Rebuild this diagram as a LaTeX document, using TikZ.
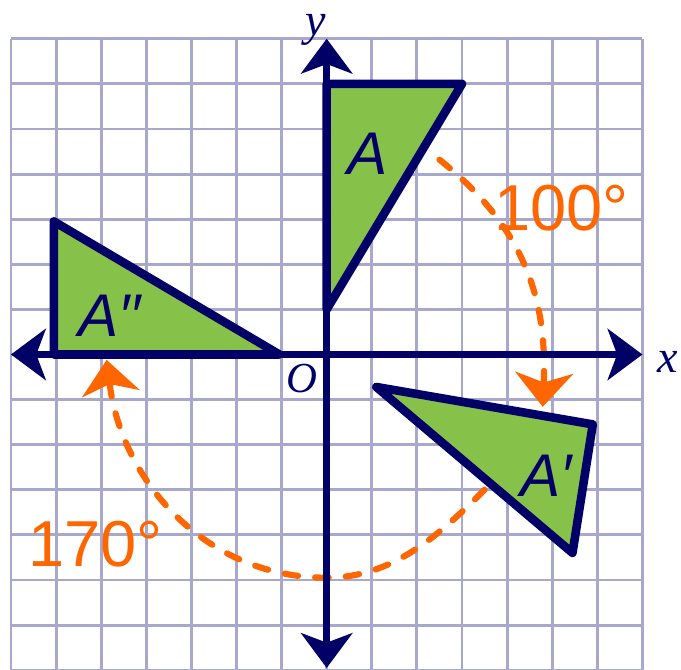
\documentclass[tikz,border=0pt]{standalone}
\usepackage{fontspec}
\setmainfont{Liberation Sans}
\newfontfamily\axisfont{Liberation Serif}
\usetikzlibrary{arrows.meta}

\definecolor{navy}{HTML}{000066}
\definecolor{gridblue}{HTML}{A8A8CC}
\definecolor{leaf}{HTML}{86C14A}
\definecolor{turnorange}{HTML}{FF6600}

\begin{document}
\begin{tikzpicture}[
    gridline/.style={gridblue, line width=1.8pt},
    axis/.style={navy, line width=4.6pt,
        {Stealth[length=7.8mm, width=11.6mm, inset=2.2mm, line width=0pt]}-{Stealth[length=7.8mm, width=11.6mm, inset=2.2mm, line width=0pt]}},
    triangle/.style={draw=navy, fill=leaf, line width=5.4pt, line join=round},
    turn/.style={turnorange, line width=3.9pt, line cap=round, dash pattern=on 0.3cm off 0.38cm,
        -{Stealth[length=7.6mm, width=13mm, inset=2.2mm, line width=0pt]}},
    tag/.style={navy, font=\fontsize{38}{38}\selectfont\itshape, inner sep=0pt, anchor=base},
    angletag/.style={turnorange, font=\fontsize{41}{41}\selectfont, inner sep=0pt, anchor=base},
    axistag/.style={navy, font=\fontsize{29}{29}\selectfont\axisfont\itshape, inner sep=0pt, anchor=base}
]
    \useasboundingbox (-7.244,-6.974) rectangle (7.856,7.86);

    % --- grid ---
    \draw[gridline] (-7,-7) grid (7,7);

    % --- turning paths ---
    \coordinate (turn100a) at (2.5,4.32);
    \coordinate (turn100b) at (4.79,-1.16);
    \draw[turn] (turn100a) .. controls (4.37,2.83) and (4.89,1.24) .. (turn100b);

    \coordinate (turn170a) at (3.5,-3.0);
    \coordinate (turn170m) at (0,-4.95);
    \coordinate (turn170b) at (-4.88,-0.12);
    \draw[turn] (turn170a) .. controls (2.47,-4.03) and (1.45,-4.95) .. (turn170m)
        .. controls (-2.7,-4.95) and (-4.54,-2.79) .. (turn170b);

    % --- triangles ---
    \draw[triangle] (0,1) -- (0,6) -- (3,6) -- cycle;
    \draw[triangle] (1.1,-0.72) -- (5.9,-1.55) -- (5.45,-4.4) -- cycle;
    \draw[triangle] (-6.05,0) -- (-6.05,2.95) -- (-1.05,0) -- cycle;

    % --- axes ---
    \coordinate (xleft) at (-7,0);
    \coordinate (xright) at (7,0);
    \coordinate (ybottom) at (0,-6.95);
    \coordinate (ytop) at (0,7);
    \draw[axis] (xleft) -- (xright);
    \draw[axis] (ybottom) -- (ytop);

    % --- labels ---
    \node[tag] (tagA) at (0.91,3.98) {A};
    \node[tag] (tagA1) at (4.87,-3.15) {A′};
    \node[tag] (tagA2) at (-4.81,0.39) {A′′};
    \node[angletag] (deg100) at (5.2,2.76) {100°};
    \node[angletag] (deg170) at (-5.12,-4.70) {170°};
    \node[axistag] (xtag) at (7.55,-0.41) {x};
    \node[axistag] (ytag) at (-0.25,7.08) {y};
    \node[axistag, font=\fontsize{27}{27}\selectfont\axisfont\itshape] (origin) at (-0.54,-0.85) {O};

\end{tikzpicture}
\end{document}
